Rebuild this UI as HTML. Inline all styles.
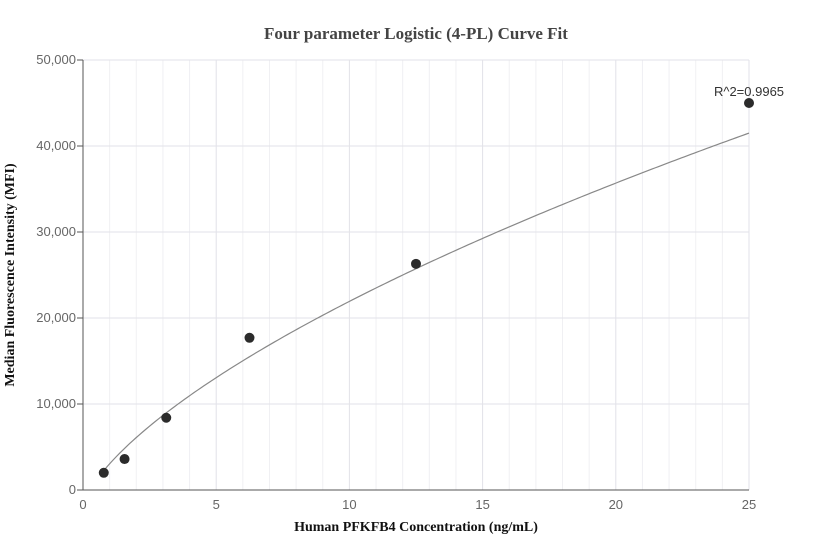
<!DOCTYPE html>
<html><head><meta charset="utf-8"><style>
body{margin:0;background:#fff;}
svg{display:block;font-family:"Liberation Sans",sans-serif;}
</style></head><body>
<svg id="chart" width="832" height="560">
<text x="416" y="39" text-anchor="middle" font-family="Liberation Serif" font-weight="bold" font-size="17" fill="#444">Four parameter Logistic (4-PL) Curve Fit</text>
<text x="416" y="531" text-anchor="middle" font-family="Liberation Serif" font-weight="bold" font-size="14" fill="#111">Human PFKFB4 Concentration (ng/mL)</text>
<text transform="translate(14,275) rotate(-90)" text-anchor="middle" font-family="Liberation Serif" font-weight="bold" font-size="14" fill="#111">Median Fluorescence Intensity (MFI)</text>
<g id="grid"></g><g id="axes"></g><g id="marks"></g>
</svg>
<script>
const xVals=[0.78,1.56,3.125,6.25,12.5,25];
const yVals=[2000,3600,8400,17700,26300,45000];
const xTicks=[0,5,10,15,20,25];
const yTicks=[0,10000,20000,30000,40000,50000];
const fitA=-2000, fitB=0.69, fitC=1000, fitK=5090;
const r2Label="R^2=0.9965";
const NS="http://www.w3.org/2000/svg";
const X0=83,X1=749,Y0=490,Y1=60;
const sx=v=>X0+(v-0)/(25-0)*(X1-X0);
const sy=v=>Y0-(v-0)/(50000-0)*(Y0-Y1);
function mk(tag,attrs,parent){const e=document.createElementNS(NS,tag);for(const k in attrs)e.setAttribute(k,attrs[k]);document.getElementById(parent).appendChild(e);return e;}
for(let i=1;i<=25;i++){if(i%5===0)continue;
const g=mk('line',{x1:sx(i),x2:sx(i),y1:Y1,y2:Y0,stroke:'#f0f0f3'},'grid');

}
xTicks.forEach(t=>{
if(t>0){const g=mk('line',{x1:sx(t),x2:sx(t),y1:Y1,y2:Y0,stroke:'#e2e2e8'},'grid');

}
const l=mk('text',{x:sx(t),y:Y0+19,'text-anchor':'middle','font-size':13,fill:'#666'},'axes');l.textContent=t;

});
yTicks.forEach(t=>{
if(t>0){const g=mk('line',{x1:X0,x2:X1,y1:sy(t),y2:sy(t),stroke:'#e2e2e8'},'grid');

}
const tk=mk('line',{x1:X0-6,x2:X0,y1:sy(t),y2:sy(t),stroke:'#555'},'axes');


const l=mk('text',{x:X0-7,y:sy(t)+4,'text-anchor':'end','font-size':13,fill:'#666'},'axes');l.textContent=t.toLocaleString('en-US');

});
const ya=mk('line',{x1:X0,x2:X0,y1:Y1,y2:Y0,stroke:'#555'},'axes');


const xa=mk('line',{x1:X0,x2:X1,y1:Y0,y2:Y0,stroke:'#555'},'axes');


const fitD=fitA+fitK*Math.pow(fitC,fitB);
const f=x=>fitD+(fitA-fitD)/(1+Math.pow(x/fitC,fitB));
let d='';const xmin=xVals[0],xmax=xVals[xVals.length-1];
for(let i=0;i<=200;i++){const x=xmin+(xmax-xmin)*i/200;d+=(i?'L':'M')+sx(x).toFixed(2)+','+sy(f(x)).toFixed(2);}
const c=mk('path',{d:d,fill:'none',stroke:'#888','stroke-width':1.2},'marks');


xVals.forEach((x,i)=>{const p=mk('circle',{cx:sx(x),cy:sy(yVals[i]),r:5,fill:'#2b2b2b'},'marks');

});
const r=mk('text',{x:sx(xmax),y:sy(yVals[yVals.length-1])-7,'text-anchor':'middle','font-size':13,fill:'#333'},'marks');r.textContent=r2Label;


</script>
</body></html>
